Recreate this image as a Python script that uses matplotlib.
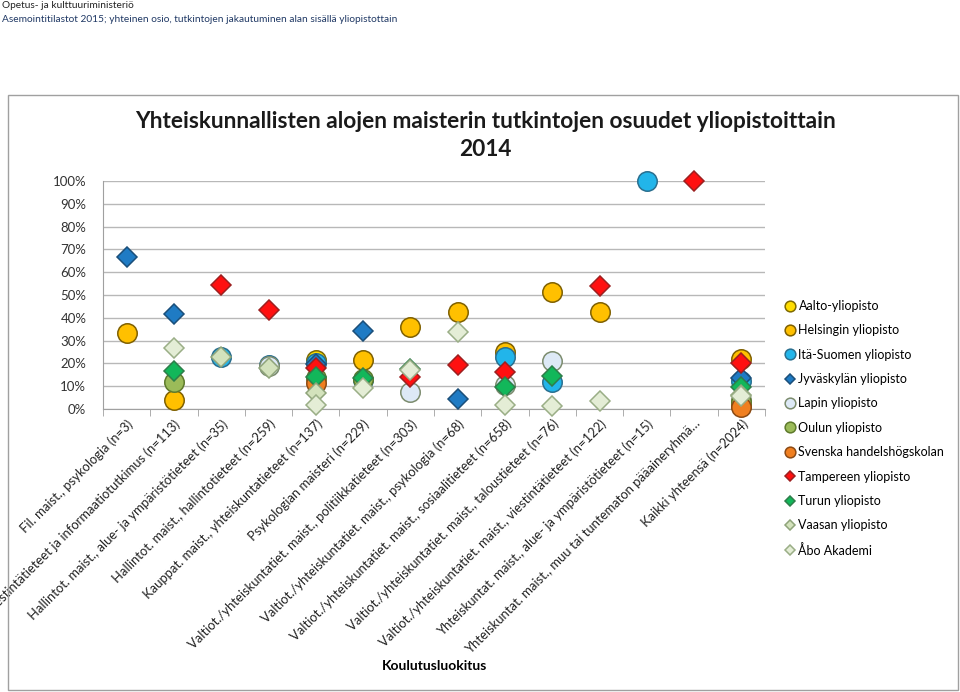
import matplotlib
matplotlib.use("Agg")
import matplotlib.pyplot as plt
from matplotlib.patches import Rectangle
import numpy as np

plt.rcParams['font.family'] = ['Lato', 'DejaVu Sans']

nan = np.nan

# categories (x axis)
categories = [
    "Fil. maist., psykologia (n=3)",
    "Fil. maist., viestintätieteet ja informaatiotutkimus (n=113)",
    "Hallintot. maist., alue- ja ympäristötieteet (n=35)",
    "Hallintot. maist., hallintotieteet (n=259)",
    "Kauppat. maist., yhteiskuntatieteet (n=137)",
    "Psykologian maisteri (n=229)",
    "Valtiot./yhteiskuntatiet. maist., politiikkatieteet (n=303)",
    "Valtiot./yhteiskuntatiet. maist., psykologia (n=68)",
    "Valtiot./yhteiskuntatiet. maist., sosiaalitieteet (n=658)",
    "Valtiot./yhteiskuntatiet. maist., taloustieteet (n=76)",
    "Valtiot./yhteiskuntatiet. maist., viestintätieteet (n=122)",
    "Yhteiskuntat. maist., alue- ja ympäristötieteet (n=15)",
    "Yhteiskuntat. maist., muu tai tuntematon pääaineryhmä…",
    "Kaikki yhteensä (n=2024)",
]

# shares in percent, one list per university
aalto     = [nan, nan, nan, nan, 21.5, nan, nan, nan, nan, nan, nan, nan, nan, 1.4]
helsinki  = [33.3, 3.9, nan, nan, nan, 21.5, 36.1, 42.6, 25.0, 51.3, 42.6, nan, nan, 22.0]
ita_suomi = [nan, nan, 22.9, 19.3, 20.3, 12.8, nan, nan, 22.8, 11.8, nan, 100.0, nan, 12.5]
jyvaskyla = [66.7, 41.7, nan, nan, 19.6, 34.2, nan, 4.4, nan, nan, nan, nan, nan, 13.8]
lappi     = [nan, nan, nan, 18.9, nan, nan, 7.6, nan, 10.5, 21.1, nan, nan, nan, 4.0]
oulu      = [nan, 11.8, nan, nan, 13.5, 13.2, nan, nan, nan, nan, nan, nan, nan, 3.0]
hanken    = [nan, nan, nan, nan, 11.3, nan, nan, nan, nan, nan, nan, nan, nan, 1.0]
tampere   = [nan, nan, 54.3, 43.4, 17.8, nan, 14.0, 19.1, 16.4, nan, 54.1, nan, 100.0, 20.0]
turku     = [nan, 16.7, nan, nan, 13.9, 13.4, 17.6, nan, 9.8, 14.5, nan, nan, nan, 9.5]
vaasa     = [nan, nan, 22.9, 18.0, 6.9, nan, nan, nan, nan, nan, nan, nan, nan, 6.1]
abo       = [nan, 26.8, nan, nan, 1.8, 9.0, 16.9, 33.8, 1.8, 1.3, 3.3, nan, nan, 5.5]

series = [
    ("Aalto-yliopisto", aalto, "o", "#FFDD00", "#7F6A00"),
    ("Helsingin yliopisto", helsinki, "o", "#FFC000", "#7F6000"),
    ("Itä-Suomen yliopisto", ita_suomi, "o", "#22B5EA", "#2A6F8F"),
    ("Jyväskylän yliopisto", jyvaskyla, "D", "#1F7BC4", "#1B4F7A"),
    ("Lapin yliopisto", lappi, "o", "#DDE9F6", "#7C8C6E"),
    ("Oulun yliopisto", oulu, "o", "#9BBB59", "#5E7A2C"),
    ("Svenska handelshögskolan", hanken, "o", "#F07F20", "#8C4A14"),
    ("Tampereen yliopisto", tampere, "D", "#FF1010", "#9C2020"),
    ("Turun yliopisto", turku, "D", "#12B75A", "#2E7D4A"),
    ("Vaasan yliopisto", vaasa, "D", "#D3E2BC", "#8FA47A"),
    ("Åbo Akademi", abo, "D", "#E4EDD6", "#9AAE86"),
]

yticks = [0, 10, 20, 30, 40, 50, 60, 70, 80, 90, 100]

W, H = 960, 692
fig = plt.figure(figsize=(9.6, 6.92), dpi=100)

# outer chart frame
fig.patches.append(Rectangle((8 / W, 1 - 690 / H), 950 / W, 595 / H,
                             transform=fig.transFigure, fill=False,
                             edgecolor="#A0A0A0", linewidth=1))

fig.text(2 / W, 1 - 6 / H, "Opetus- ja kulttuuriministeriö", fontsize=7.3,
         color="#222222", va="center")
fig.text(2 / W, 1 - 19 / H,
         "Asemointitilastot 2015; yhteinen osio, tutkintojen jakautuminen alan sisällä yliopistottain",
         fontsize=7.3, color="#1F3864", va="center")

fig.text(485 / W, 1 - 122 / H, "Yhteiskunnallisten alojen maisterin tutkintojen osuudet yliopistoittain",
         fontsize=16.3, fontweight="bold", ha="center", va="center", color="#1A1A1A")
fig.text(485 / W, 1 - 150 / H, "2014", fontsize=16.3, fontweight="bold",
         ha="center", va="center", color="#1A1A1A")

ax = fig.add_axes([103 / W, 1 - 409 / H, 662 / W, 228 / H])
x = np.arange(len(categories))

for name, vals, mk, fc, ec in series:
    if mk == "o":
        ms = 14
    else:
        ms = 10
    ax.plot(x, vals, linestyle="none", marker=mk, markersize=ms,
            markerfacecolor=fc, markeredgecolor=ec, markeredgewidth=1.1,
            label=name, clip_on=False, zorder=3)

ax.set_xlim(-0.5, len(categories) - 0.5)
ax.set_ylim(0, 100)
ax.set_yticks(yticks)
ax.set_yticklabels([f"{t}%" for t in yticks], fontsize=9.5, color="#333333")
ax.yaxis.grid(True, color="#B8B8B8", linewidth=1)
ax.set_axisbelow(True)
ax.tick_params(axis="y", length=0, pad=12)

ax.set_xticks(x)
ax.set_xticklabels(categories, rotation=45, ha="right", rotation_mode="anchor",
                   fontsize=9.4, color="#222222")
ax.set_xticks(np.arange(-0.5, len(categories)), minor=True)
ax.tick_params(axis="x", which="major", length=0, pad=6)
ax.tick_params(axis="x", which="minor", length=5, color="#A0A0A0", direction="out")

for s in ["top", "right"]:
    ax.spines[s].set_visible(False)
ax.spines["left"].set_color("#A0A0A0")
ax.spines["bottom"].set_color("#A0A0A0")

fig.text(435 / W, 1 - 666 / H, "Koulutusluokitus", fontsize=10, fontweight="bold",
         ha="center", va="center")

handles, labels = ax.get_legend_handles_labels()
leg = fig.legend(handles, labels, loc="upper left", bbox_to_anchor=(781 / W, 1 - 295 / H),
                 frameon=False, fontsize=9, handlelength=0.6, handletextpad=0.4,
                 labelspacing=0.99, markerscale=0.55, borderaxespad=0)

fig.savefig("out.png", dpi=100)
